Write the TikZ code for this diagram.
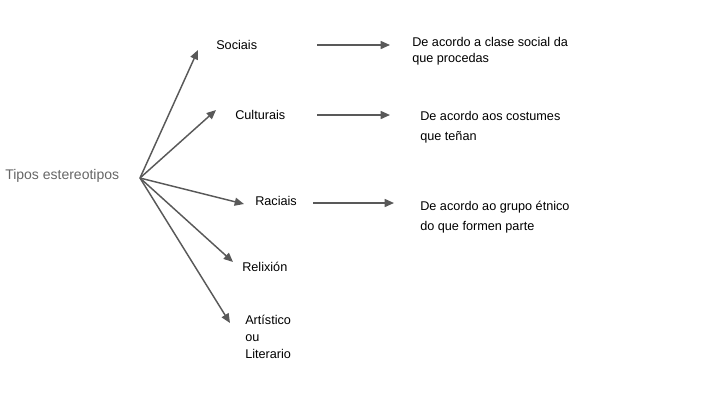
\documentclass[tikz,border=0pt]{standalone}
\usepackage{fontspec}
\setmainfont{Liberation Sans}
\usetikzlibrary{arrows.meta}
\begin{document}
\begin{tikzpicture}[x=0.75pt,y=-0.75pt,
  lbl/.style={anchor=west,inner sep=0pt,font=\fontsize{9.5}{12}\selectfont,align=left},
  arr/.style={draw=black!65,line width=1.1pt,-{Triangle[length=7pt,width=6pt]}}]
\useasboundingbox (0,0) rectangle (720,405);
\node[anchor=west,inner sep=0pt,font=\fontsize{10.5}{12}\selectfont,text=black!60] (t) at (5,176) {Tipos estereotipos};
\coordinate (s) at (140,178);
\node[lbl] (so) at (216,45) {Sociais};
\node[lbl] (cu) at (235,115) {Culturais};
\node[lbl] (ra) at (255,201) {Raciais};
\node[lbl] (re) at (242,267) {Relixión};
\node[lbl,font=\fontsize{9.5}{12.5}\selectfont] (ar) at (245,337) {Artístico\\ou\\Literario};
\coordinate (a1) at (198,50); \coordinate (a2) at (216,110);
\coordinate (a3) at (244,204); \coordinate (a4) at (233,262); \coordinate (a5) at (230,323);
\foreach \e in {a1,a2,a3,a4,a5} \draw[arr] (s) -- (\e);
\node[lbl] (d1) at (412,51) {De acordo a clase social da\\que procedas};
\node[lbl] (d2) at (420,127) {De acordo aos costumes\\[3pt]que teñan};
\node[lbl] (d3) at (420,217) {De acordo ao grupo étnico\\[3pt]do que formen parte};
\coordinate (h1) at (317,45); \coordinate (e1) at (390,45);
\coordinate (h2) at (317,115); \coordinate (e2) at (390,115);
\coordinate (h3) at (313,203); \coordinate (e3) at (394,203);
\draw[arr] (h1) -- (e1);
\draw[arr] (h2) -- (e2);
\draw[arr] (h3) -- (e3);
\end{tikzpicture}
\end{document}
